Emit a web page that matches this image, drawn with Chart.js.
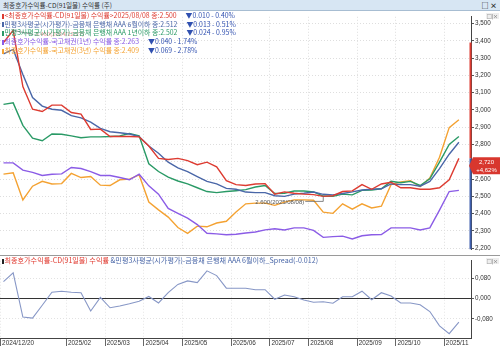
<!DOCTYPE html>
<html>
<head>
<meta charset="utf-8">
<script src="https://cdn.jsdelivr.net/npm/chart.js@4.4.1/dist/chart.umd.min.js"></script>
<style>
  body { margin: 0; background: #fff; }
  #wrap { position: relative; width: 500px; height: 346px; overflow: hidden; background: #fff;
          font-family: "Noto Sans CJK KR", sans-serif; }
  #titlebar { position: absolute; left: 0; top: 0; width: 500px; height: 11px; box-sizing: border-box;
              background: #d7e6f3; border-bottom: 1px solid #a7bdd2; }
  #titlebar .t { position: absolute; left: 3px; top: 0; font-size: 6.6px; line-height: 10px; color: #333; }
  #titlebar .w { position: absolute; right: 3px; top: 0; font-size: 7px; line-height: 10px; color: #222; font-weight: bold; }
  canvas { position: absolute; left: 0; }
  #mainChart { top: 12px; }
  #spreadChart { top: 256px; }
  #sep { position: absolute; left: 0; top: 255px; width: 500px; height: 1px; background: #9a9a9a; }
  .lg { position: absolute; left: 2px; font-size: 6.9px; line-height: 8px; white-space: nowrap; }
  .mk { display: inline-block; width: 1.5px; height: 5px; margin-right: 1px; vertical-align: -0.5px; }
  .dn { color: #3050b0; margin-left: 9px; }
  .ic { position: absolute; right: 1px; font-size: 5px; line-height: 6px; color: #555; background: #eee; padding: 0 1px; }
</style>
</head>
<body>
<div id="wrap">
  <div id="titlebar"><span class="t">최종호가수익률-CD(91일물) 수익률 (주)</span><span class="w">□ ×</span></div>
  <canvas id="mainChart" width="500" height="242"></canvas>
  <div id="legendMain"></div>
  <div class="ic" style="top:13px">□|×</div>
  <div id="sep"></div>
  <canvas id="spreadChart" width="500" height="90"></canvas>
  <div class="lg" style="top:256px; font-size:7.1px"><span class="mk" style="background:#222"></span><span style="color:#e0392f">최종호가수익률-CD(91일물) 수익률</span><span style="color:#4a67a8"> &amp;민평3사평균(시가평가)-금융채 은행채 AAA 6월이하_Spread(-0.012)</span></div>
  <div class="ic" style="top:258px">□|×</div>
</div>
<script>
// weekly observation dates
const weeks = [
  '2024/12/20', '2024/12/27', '2025/01/03', '2025/01/10', '2025/01/17', '2025/01/24', '2025/01/31',
  '2025/02/07', '2025/02/14', '2025/02/21', '2025/02/28', '2025/03/07', '2025/03/14', '2025/03/21',
  '2025/03/28', '2025/04/04', '2025/04/11', '2025/04/18', '2025/04/25', '2025/05/02', '2025/05/09',
  '2025/05/16', '2025/05/23', '2025/05/30', '2025/06/06', '2025/06/13', '2025/06/20', '2025/06/27',
  '2025/07/04', '2025/07/11', '2025/07/18', '2025/07/25', '2025/08/01', '2025/08/08', '2025/08/15',
  '2025/08/22', '2025/08/29', '2025/09/05', '2025/09/12', '2025/09/19', '2025/09/26', '2025/10/03',
  '2025/10/10', '2025/10/17', '2025/10/24', '2025/10/31', '2025/11/07', '2025/11/14'
];

// yields (%)
const cd91 = [3.390, 3.460, 3.135, 3.004, 2.991, 3.028, 3.028, 2.985, 2.976, 2.887, 2.889, 2.846,
  2.846, 2.846, 2.844, 2.791, 2.720, 2.713, 2.720, 2.707, 2.683, 2.698, 2.671, 2.591,
  2.568, 2.563, 2.572, 2.574, 2.513, 2.526, 2.518, 2.513, 2.510, 2.500, 2.504, 2.528,
  2.532, 2.568, 2.541, 2.572, 2.582, 2.550, 2.550, 2.541, 2.541, 2.550, 2.596, 2.720];
const aaa6m = [3.324, 3.350, 3.205, 3.072, 3.022, 3.004, 2.998, 2.967, 2.954, 2.929, 2.893, 2.874,
  2.868, 2.861, 2.846, 2.791, 2.750, 2.698, 2.665, 2.643, 2.615, 2.587, 2.572, 2.546,
  2.541, 2.525, 2.522, 2.522, 2.504, 2.500, 2.513, 2.518, 2.525, 2.512, 2.509, 2.517,
  2.526, 2.537, 2.541, 2.544, 2.572, 2.568, 2.568, 2.559, 2.587, 2.661, 2.744, 2.813];
const aaa1y = [3.032, 3.041, 2.911, 2.837, 2.822, 2.861, 2.859, 2.850, 2.839, 2.844, 2.844, 2.846,
  2.850, 2.864, 2.850, 2.689, 2.644, 2.611, 2.589, 2.572, 2.550, 2.528, 2.522, 2.528,
  2.533, 2.539, 2.554, 2.563, 2.517, 2.518, 2.531, 2.531, 2.526, 2.502, 2.500, 2.513,
  2.509, 2.535, 2.537, 2.544, 2.587, 2.579, 2.587, 2.563, 2.602, 2.698, 2.800, 2.846];
const ktb1y = [2.694, 2.694, 2.652, 2.639, 2.621, 2.628, 2.630, 2.667, 2.661, 2.643, 2.621, 2.621,
  2.609, 2.596, 2.628, 2.561, 2.513, 2.430, 2.402, 2.374, 2.337, 2.287, 2.283, 2.278,
  2.281, 2.288, 2.294, 2.306, 2.313, 2.306, 2.318, 2.318, 2.303, 2.263, 2.267, 2.270,
  2.254, 2.272, 2.278, 2.279, 2.318, 2.318, 2.318, 2.306, 2.318, 2.421, 2.528, 2.535];
const ktb3y = [2.629, 2.637, 2.479, 2.559, 2.587, 2.572, 2.574, 2.633, 2.609, 2.615, 2.565, 2.563,
  2.596, 2.600, 2.624, 2.467, 2.422, 2.380, 2.320, 2.286, 2.328, 2.324, 2.346, 2.356,
  2.410, 2.457, 2.461, 2.461, 2.448, 2.467, 2.480, 2.480, 2.478, 2.409, 2.402, 2.457,
  2.426, 2.457, 2.433, 2.443, 2.568, 2.583, 2.591, 2.556, 2.606, 2.726, 2.898, 2.943];
// CD(91) - AAA 6m spread
const spread = [0.068, 0.103, -0.073, -0.077, -0.026, 0.026, 0.030, 0.026, 0.024, -0.049, 0.005, -0.036,
  -0.029, -0.020, -0.010, 0.009, -0.017, 0.024, 0.057, 0.071, 0.064, 0.111, 0.092, 0.042,
  0.042, 0.042, 0.036, 0.036, -0.002, 0.015, 0.008, -0.005, -0.014, -0.012, -0.018, 0.008,
  0.008, 0.030, -0.004, 0.024, 0.011, -0.017, -0.017, -0.024, -0.051, -0.108, -0.139, -0.093];

// axis ticks
const yTicks = [2.2, 2.3, 2.4, 2.5, 2.6, 2.7, 2.8, 2.9, 3.0, 3.1, 3.2, 3.3, 3.4, 3.5];
const spreadTicks = [-0.08, 0, 0.08];
const monthLabels = ['2025/02', '2025/03', '2025/04', '2025/05', '2025/06', '2025/07',
  '2025/08', '2025/09', '2025/10', '2025/11'];

// cursor date shown in the legend, and the reference price
const cursorDate = '2025/08/08';
const basePrice = 2.600;

const series = [
  { name: '최종호가수익률-CD(91일물) 수익률', data: cd91, color: '#dd3b31' },
  { name: '민평3사평균(시가평가)-금융채 은행채 AAA 6월이하', data: aaa6m, color: '#4a67a8' },
  { name: '민평3사평균(시가평가)-금융채 은행채 AAA 1년이하', data: aaa1y, color: '#2a9a66' },
  { name: '최종호가수익률-국고채권(1년) 수익률', data: ktb1y, color: '#8b5ce6' },
  { name: '최종호가수익률-국고채권(3년) 수익률', data: ktb3y, color: '#f4a232' }
];

const fmt = v => v.toFixed(3).replace('.', ',');
const toPoints = arr => arr.map((v, i) => ({ x: i, y: v }));

// x range: a little room left of the first week and right of the last
const X_MIN = -0.36, X_MAX = 48.25;

const cursor = weeks.indexOf(cursorDate);
const monthTicks = monthLabels.map(m => ({ value: weeks.findIndex(w => w.startsWith(m)) - 0.5, label: m }));
const bottomTicks = [{ value: -0.3, label: weeks[0] }].concat(monthTicks);

// legend text
const legendBox = document.getElementById('legendMain');
series.forEach((s, k) => {
  const v = s.data[cursor], prev = s.data[cursor - 1];
  const chg = v - prev;
  const arrow = chg < 0 ? '▼' : '▲';
  const pct = Math.abs(chg / prev * 100).toFixed(2);
  const head = k === 0 ? `<${s.name}>${cursorDate} 종:${v.toFixed(3)}` : `${s.name} 종:${v.toFixed(3)}`;
  const div = document.createElement('div');
  div.className = 'lg';
  div.style.top = [11, 19.5, 28.3, 37.2, 46][k] + 'px';
  div.innerHTML = `<span class="mk" style="background:${s.color}"></span><span style="color:${s.color}">${head}</span>` +
    `<span class="dn">${arrow}${Math.abs(chg).toFixed(3)} - ${pct}%</span>`;
  legendBox.appendChild(div);
});

const gridColor = '#dedede';
const tickFont = { family: 'Liberation Sans', size: 6.3 };

const markerPlugin = {
  id: 'markers',
  afterDraw(chart) {
    const { ctx, chartArea: area, scales: { x, y } } = chart;
    ctx.save();
    ctx.lineWidth = 0.8;
    ctx.textBaseline = 'middle';
    ctx.font = '6px "Liberation Sans"';

    // highest CD print
    const iMax = cd91.indexOf(Math.max(...cd91));
    const mx = x.getPixelForValue(iMax), my = y.getPixelForValue(cd91[iMax]);
    ctx.strokeStyle = '#777';
    ctx.beginPath(); ctx.moveTo(mx, my); ctx.lineTo(mx + 20, my + 4); ctx.stroke();
    ctx.fillStyle = '#ec9a9a';
    ctx.fillText(`${cd91[iMax].toFixed(3)}(${weeks[iMax]})`, mx + 22, my + 4);

    // reference price label at the cursor date
    const bx = x.getPixelForValue(cursor), by = y.getPixelForValue(cd91[cursor]);
    ctx.strokeStyle = '#666';
    ctx.beginPath(); ctx.moveTo(bx, by); ctx.lineTo(bx, by + 5); ctx.lineTo(bx - 18, by + 5); ctx.stroke();
    ctx.fillStyle = '#555';
    ctx.textAlign = 'right';
    ctx.fillText(`${basePrice.toFixed(3)}(${cursorDate})`, bx - 19, by + 5.5);

    // range bars on the axis
    const last = cd91[cd91.length - 1];
    const ly = y.getPixelForValue(last);
    const y0 = y.getPixelForValue(cd91[0]);
    ctx.fillStyle = '#dd3b31';
    ctx.fillRect(area.right - 1.5, y0, 2, ly - y0);
    ctx.fillStyle = '#3f5fae';
    ctx.fillRect(area.right - 1.5, ly, 2, area.bottom - ly);

    // current value tag
    const top = ly - 1, h = 17, left = area.right - 2, right = chart.width;
    ctx.fillStyle = '#d8372e';
    ctx.beginPath();
    ctx.moveTo(left, top + h / 2); ctx.lineTo(left + 4, top); ctx.lineTo(right, top);
    ctx.lineTo(right, top + h); ctx.lineTo(left + 4, top + h); ctx.closePath(); ctx.fill();
    ctx.fillStyle = '#fff';
    ctx.textAlign = 'center';
    const chgPct = (last - basePrice) / basePrice * 100;
    ctx.fillText(fmt(last), (left + 4 + right) / 2, top + 4.5);
    ctx.fillText(`${chgPct >= 0 ? '+' : ''}${chgPct.toFixed(2).replace('.', ',')}%`, (left + 4 + right) / 2, top + 12.5);
    ctx.restore();
  }
};

new Chart(document.getElementById('mainChart'), {
  type: 'line',
  data: {
    datasets: series.map(s => ({
      data: toPoints(s.data),
      borderColor: s.color,
      borderWidth: 1.4,
      pointRadius: 0,
      tension: 0
    }))
  },
  options: {
    responsive: false,
    animation: false,
    layout: { padding: 0 },
    plugins: { legend: { display: false }, tooltip: { enabled: false } },
    scales: {
      x: {
        type: 'linear', min: X_MIN, max: X_MAX,
        afterBuildTicks: s => { s.ticks = monthTicks.map(t => ({ value: t.value })); },
        afterFit: s => { s.height = 0; },
        ticks: { display: false },
        grid: { color: gridColor, drawTicks: false },
        border: { display: false, dash: [1, 2] }
      },
      y: {
        position: 'right', min: 2.1944, max: 3.5389,
        afterBuildTicks: s => { s.ticks = yTicks.map(v => ({ value: v })); },
        afterFit: s => { s.width = 29; },
        ticks: { callback: v => fmt(v), font: tickFont, color: '#333', padding: 1 },
        grid: { color: gridColor, tickColor: '#555', tickLength: 3, tickBorderDash: [] },
        border: { display: true, color: '#444', width: 1, dash: [1, 2] }
      }
    }
  },
  plugins: [markerPlugin]
});

new Chart(document.getElementById('spreadChart'), {
  type: 'line',
  data: {
    datasets: [{
      data: toPoints(spread),
      borderColor: '#8797c6',
      borderWidth: 1.1,
      pointRadius: 0,
      tension: 0
    }]
  },
  options: {
    responsive: false,
    animation: false,
    layout: { padding: 0 },
    plugins: { legend: { display: false }, tooltip: { enabled: false } },
    scales: {
      x: {
        type: 'linear', min: X_MIN, max: X_MAX,
        afterBuildTicks: s => { s.ticks = bottomTicks.map(t => ({ value: t.value })); },
        afterFit: s => { s.height = 8; },
        ticks: {
          callback: (v, i) => bottomTicks[i].label,
          align: 'start', autoSkip: false, maxRotation: 0, minRotation: 0,
          padding: -7, labelOffset: 1.5, font: { family: 'Liberation Sans', size: 6.4 }, color: '#333'
        },
        grid: { color: '#e6e6e6', tickColor: '#666', tickLength: 8, tickBorderDash: [] },
        border: { display: true, color: '#444', dash: [1, 2] }
      },
      y: {
        position: 'right', min: -0.1564, max: 0.1511,
        afterBuildTicks: s => { s.ticks = spreadTicks.map(v => ({ value: v })); },
        afterFit: s => { s.width = 29; },
        ticks: { callback: v => fmt(v), font: tickFont, color: '#333', padding: 1 },
        grid: {
          color: c => (c.tick && c.tick.value === 0 ? '#333' : '#e2e2e2'),
          tickColor: '#555', tickLength: 3, tickBorderDash: []
        },
        border: { display: true, color: '#444', dash: c => (c.tick && c.tick.value === 0 ? [] : [1, 2]) }
      }
    }
  }
});
</script>
</body>
</html>
